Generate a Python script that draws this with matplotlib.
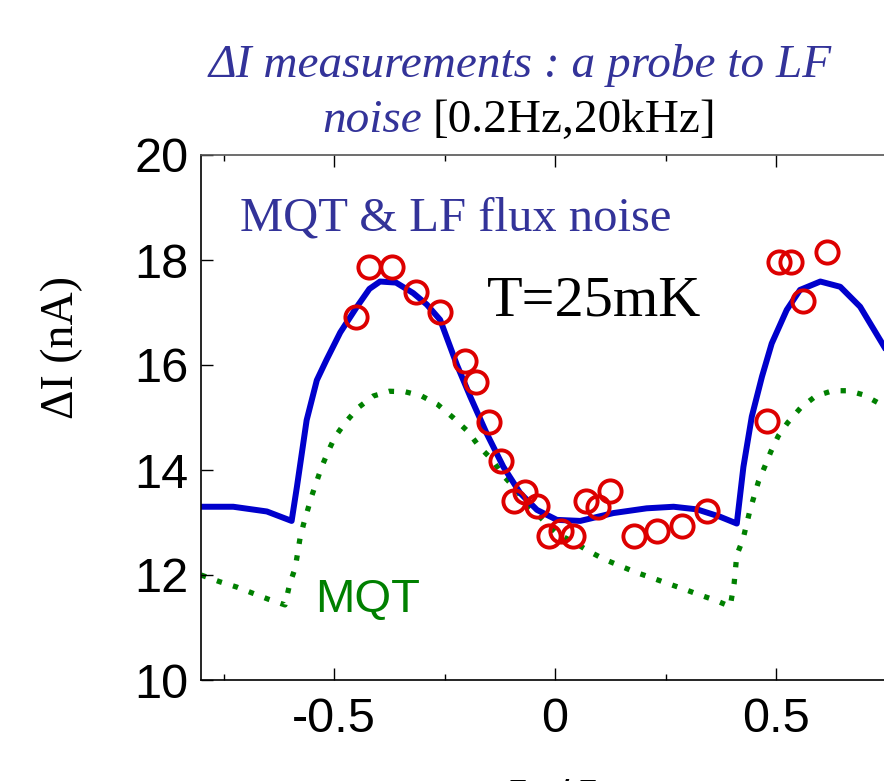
import matplotlib
matplotlib.use('Agg')
import matplotlib.pyplot as plt
from matplotlib.ticker import MultipleLocator

# model: MQT + LF flux noise (blue solid)
blue_x = [-0.801, -0.728, -0.652, -0.596, -0.584, -0.562, -0.539, -0.517, -0.486, -0.449,
          -0.420, -0.396, -0.360, -0.321, -0.290, -0.260, -0.222, -0.192, -0.155, -0.117,
          -0.079, -0.041, 0.004, 0.057, 0.132, 0.207, 0.268, 0.321, 0.373, 0.411,
          0.426, 0.445, 0.468, 0.490, 0.524, 0.554, 0.600, 0.645, 0.690, 0.735, 0.745]
blue_y = [13.30, 13.30, 13.21, 13.03, 13.68, 14.95, 15.71, 16.10, 16.62, 17.10,
          17.45, 17.59, 17.57, 17.37, 17.15, 16.86, 16.00, 15.40, 14.70, 14.06,
          13.56, 13.24, 13.05, 13.03, 13.18, 13.27, 13.30, 13.25, 13.11, 12.98,
          14.06, 15.02, 15.78, 16.41, 17.05, 17.43, 17.59, 17.49, 17.11, 16.48, 16.34]

# model: MQT only (green dotted)
green_x = [-0.801, -0.758, -0.720, -0.683, -0.649, -0.611, -0.600, -0.588, -0.577, -0.569,
           -0.550, -0.528, -0.513, -0.498, -0.475, -0.445, -0.411, -0.375, -0.339, -0.302,
           -0.266, -0.231, -0.198, -0.171, -0.143, -0.117, -0.090, -0.060, -0.030, 0.004,
           0.041, 0.079, 0.111, 0.151, 0.183, 0.221, 0.254, 0.292, 0.324, 0.362,
           0.396, 0.405, 0.411, 0.425, 0.441, 0.460, 0.475, 0.488, 0.505, 0.526,
           0.556, 0.590, 0.628, 0.664, 0.698, 0.735, 0.745]
green_y = [12.00, 11.87, 11.77, 11.65, 11.54, 11.43, 11.84, 12.13, 12.70, 12.97,
           13.52, 14.06, 14.36, 14.63, 14.90, 15.19, 15.41, 15.50, 15.49, 15.41,
           15.25, 15.00, 14.74, 14.44, 14.20, 13.89, 13.65, 13.30, 13.07, 12.79,
           12.63, 12.44, 12.30, 12.16, 12.05, 11.94, 11.84, 11.73, 11.63, 11.52,
           11.40, 11.84, 12.38, 12.68, 13.24, 13.78, 14.08, 14.35, 14.65, 14.90,
           15.19, 15.41, 15.51, 15.51, 15.43, 15.26, 15.22]

# measured dI (red circles)
data_x = [-0.451, -0.422, -0.369, -0.314, -0.260, -0.204, -0.178, -0.150, -0.123, -0.094,
          -0.068, -0.041, -0.013, 0.014, 0.041, 0.069, 0.096, 0.124, 0.178, 0.231,
          0.287, 0.343, 0.479, 0.507, 0.533, 0.560, 0.615]
data_y = [16.91, 17.87, 17.87, 17.40, 17.01, 16.08, 15.68, 14.92, 14.17, 13.41,
          13.59, 13.31, 12.74, 12.84, 12.74, 13.41, 13.30, 13.60, 12.75, 12.84,
          12.94, 13.22, 14.93, 17.96, 17.96, 17.21, 18.16]

xticks = [-0.5, 0, 0.5]
xtick_labels = ['-0.5', '0', '0.5']
yticks = [10, 12, 14, 16, 18, 20]

plt.rcParams['font.family'] = 'Liberation Sans'
plt.rcParams['mathtext.fontset'] = 'stix'

title_blue = '#333399'
W, H = 884, 781

fig = plt.figure(figsize=(W / 100, H / 100), dpi=100)
ax = fig.add_axes([201 / W, 1 - 680 / H, (W - 201) / W, 525 / H])

ax.plot(green_x, green_y, color='#008000', lw=3.8, linestyle=(0, (1, 2.2)), zorder=1)
ax.plot(blue_x, blue_y, color='#0000cc', lw=4.3, solid_joinstyle='round', zorder=2)
ax.plot(data_x, data_y, 'o', mfc='none', mec='#dd0000', ms=16, mew=2.8, zorder=3)

ax.set_xlim(-0.801, 0.744)
ax.set_ylim(10, 20)
ax.set_xticks(xticks, labels=xtick_labels)
ax.set_yticks(yticks)
ax.xaxis.set_minor_locator(MultipleLocator(0.25))
ax.tick_params(which='both', direction='in', top=True, right=False, labelsize=35)
ax.tick_params(axis='y', pad=9)
ax.tick_params(axis='x', pad=12)
ax.tick_params(which='major', length=8.5, width=1)
ax.tick_params(which='minor', length=4.5, width=1)
ax.spines['right'].set_visible(False)
ax.spines['top'].set_color('#555555')
for s in ['left', 'bottom', 'top']:
    ax.spines[s].set_linewidth(1.2)

ax.text(-0.713, 18.57, 'MQT & LF flux noise', family='Liberation Serif', fontsize=35,
        color=title_blue, va='baseline')
ax.text(-0.154, 16.95, 'T=25mK', family='Liberation Serif', fontsize=42,
        color='black', va='baseline')
ax.text(-0.543, 11.30, 'MQT', fontsize=34, color='#008000', va='baseline')

# title, two lines, mixed styles
fig.text(520 / W, 1 - 77 / H, 'ΔI measurements : a probe to LF', family='Liberation Serif',
         style='italic', fontsize=34, color=title_blue, ha='center', va='baseline')
t2 = fig.text(322 / W, 1 - 132 / H, 'noise', family='Liberation Serif', style='italic',
              fontsize=34, color=title_blue, ha='left', va='baseline')
ax.annotate('[0.2Hz,20kHz]', xy=(1, 0), xycoords=t2, xytext=(8, 0),
            textcoords='offset points', family='Liberation Serif', fontsize=34,
            color='black', ha='left', va='bottom', annotation_clip=False)

fig.text(62 / W, 1 - 348 / H, 'ΔI (nA)', family='Liberation Serif', fontsize=33,
         rotation=90, ha='center', va='center')
# x label sits mostly below the picture edge, as in the source
fig.text(562 / W, 1 - 776 / H, r'$\Phi_x/\Phi_0$', fontsize=36, ha='center', va='top')

fig.savefig('out.png', dpi=100)
